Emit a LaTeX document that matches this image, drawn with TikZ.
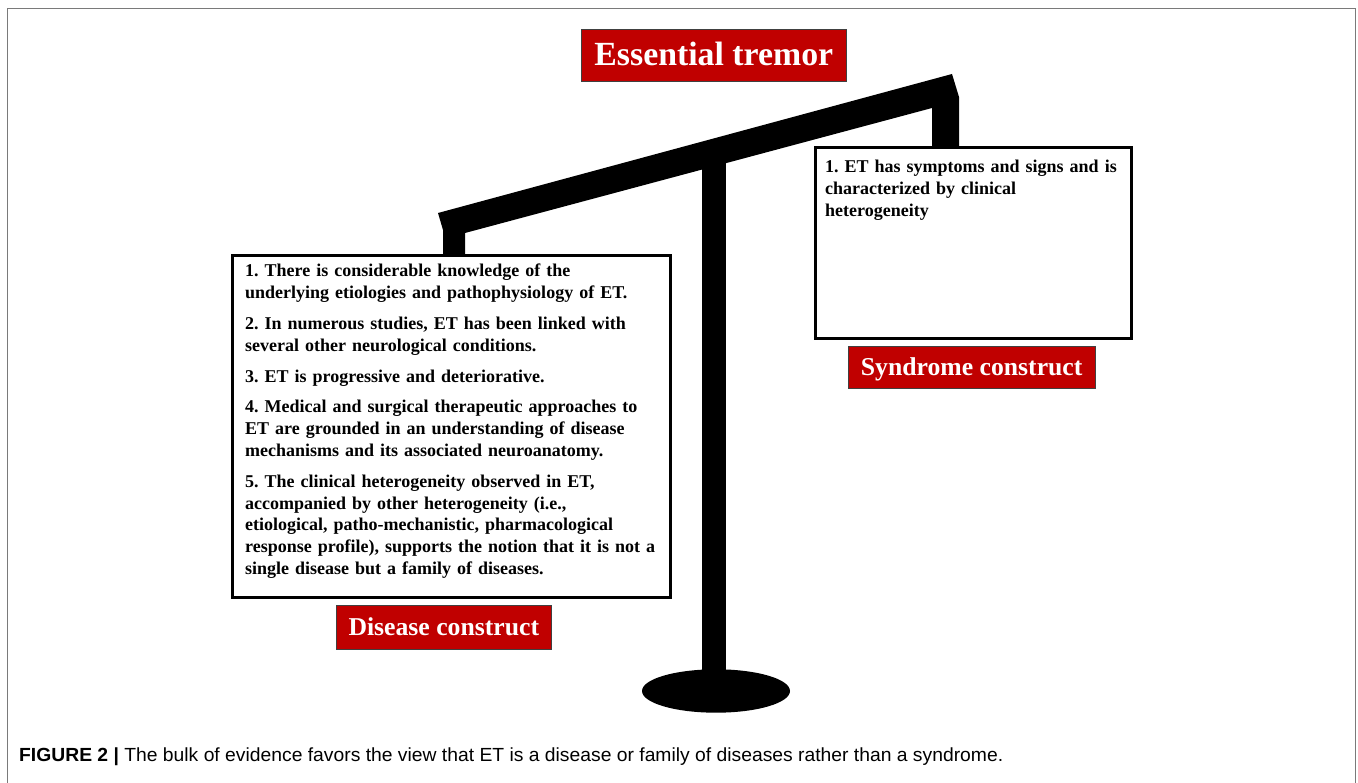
\documentclass[tikz,border=0pt]{standalone}
\usepackage{fontspec}
\usepackage{graphicx}
\setmainfont{Liberation Serif}
\setsansfont{Liberation Sans}
\definecolor{ered}{HTML}{C00000}
\definecolor{framegray}{HTML}{7A7A7A}
\newcommand{\listfont}{\bfseries\frenchspacing\fontsize{18}{21.8}\selectfont}
\begin{document}
\begin{tikzpicture}[x=1pt,y=-1pt,
  listbox/.style={draw=black, line width=3pt, fill=white, inner sep=0pt, anchor=north west},
  listtext/.style={anchor=north west, inner sep=0pt, text width=460pt, align=left, font=\listfont},
  redlabel/.style={fill=ered, draw=black!75, line width=0.8pt, text=white, inner sep=0pt,
    font=\bfseries, text depth=0pt},
  solidblack/.style={fill=black, draw=none}]
\useasboundingbox (0,0) rectangle (1358,783);
\fill[white] (0,0) rectangle (1358,783);
% outer frame (open at bottom)
\draw[framegray, line width=1.5pt] (7.5,783) -- (7.5,8.5) -- (1355.5,8.5) -- (1355.5,783);
% pole and base
\fill[solidblack] (702,160) rectangle (726,691);
\fill[solidblack] (716,691) ellipse [x radius=74, y radius=21.7];
% beam with hangers
\fill[solidblack] (438,213) -- (952,74) -- (959,97) -- (959,148) -- (932,148) -- (932,108)
  -- (465,233) -- (465,256) -- (443,256) -- (443,230) -- cycle;
% title
\node[redlabel, minimum width=265.7pt, minimum height=52pt, text height=22pt,
  font=\bfseries\fontsize{33.8}{36}\selectfont] (title) at (713.8,55) {Essential tremor};
% left box
\node[listbox, minimum width=438pt, minimum height=341pt] (dbox) at (230.5,254.5) {};
\node[listtext] (dtext) at (245,261.5) {\strut 1. There is considerable knowledge of the\\
underlying etiologies and pathophysiology of ET.\\[9pt]
2. In numerous studies, ET has been linked with\\
several other neurological conditions.\\[9pt]
3. ET is progressive and deteriorative.\\[9pt]
4. Medical and surgical therapeutic approaches to\\
ET are grounded in an understanding of disease\\
mechanisms and its associated neuroanatomy.\\[9pt]
5. The clinical heterogeneity observed in ET,\\
accompanied by other heterogeneity (i.e.,\\
etiological, patho-mechanistic, pharmacological\\
response profile), supports the notion that it is not a\\
single disease but a family of diseases.};
% right box
\node[listbox, minimum width=316pt, minimum height=190.3pt] (sbox) at (814.2,146.5) {};
\node[listtext, font=\bfseries\frenchspacing\fontsize{18}{22.2}\selectfont] (stext) at (825,156.4) {\strut 1. ET has symptoms and signs and is\\
characterized by clinical\\
heterogeneity};
% labels
\node[redlabel, minimum width=246.7pt, minimum height=42.3pt, text height=17pt,
  font=\bfseries\fontsize{25.7}{28}\selectfont] (slabel) at (971.7,367.2) {Syndrome construct};
\node[redlabel, minimum width=215.7pt, minimum height=44.3pt, text height=17pt,
  font=\bfseries\fontsize{25.7}{28}\selectfont] (dlabel) at (443.8,627.2) {Disease construct};
% caption
\node[anchor=base west, inner sep=0pt, font=\sffamily\fontsize{19}{22}\selectfont] (caption) at (19,761)
  {\resizebox{984pt}{\height}{\textbf{FIGURE 2 |} The bulk of evidence favors the view that ET is a disease or family of diseases rather than a syndrome.}};
\end{tikzpicture}
\end{document}
